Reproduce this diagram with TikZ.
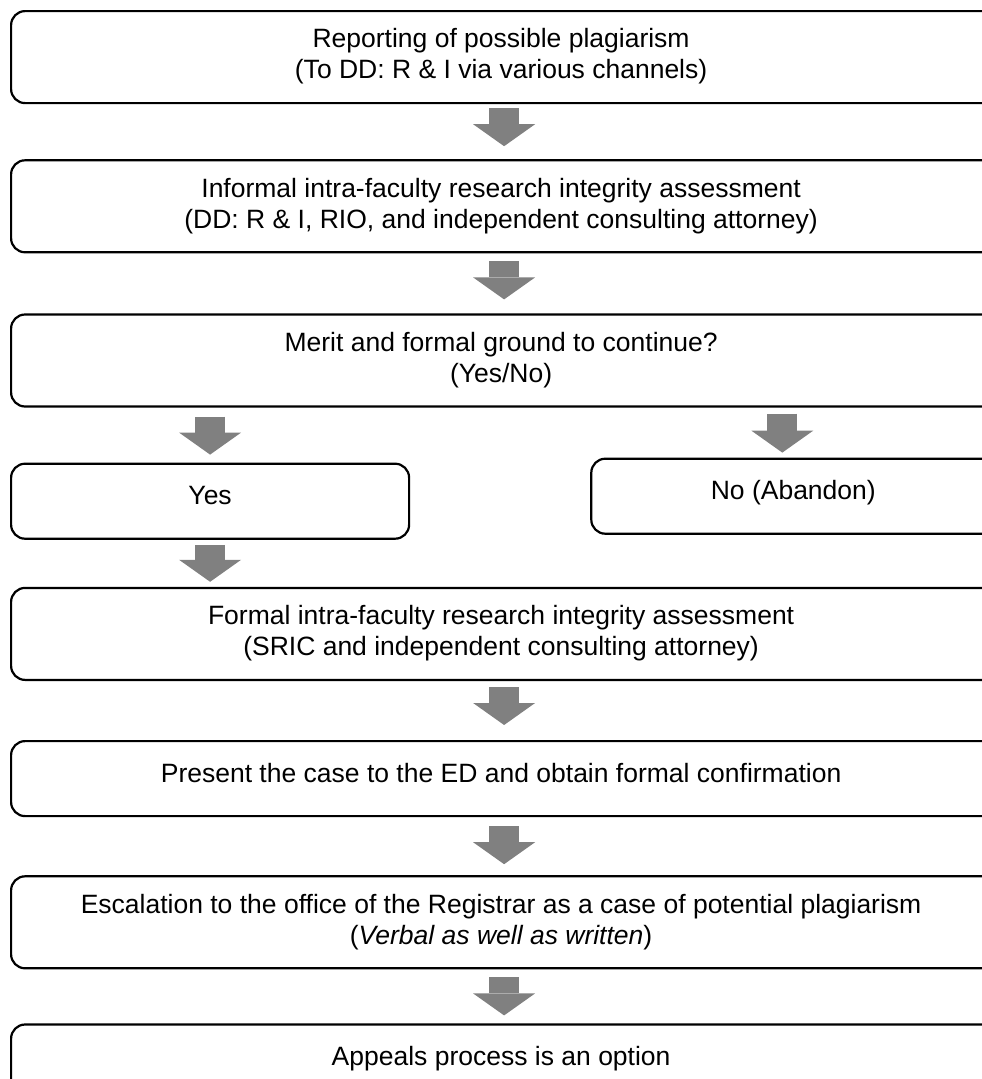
\documentclass[tikz,border=0pt]{standalone}
\usepackage{fontspec}
\setmainfont{Liberation Sans}
\usetikzlibrary{positioning,arrows.meta}
\definecolor{arrgray}{RGB}{128,128,128}
% text centred 15pt left of the box centre (box runs past the right edge)
\newcommand{\padln}[1]{\begin{tabular}{@{}c@{\hspace{30pt}}}#1\end{tabular}}
\tikzset{
  box/.style={draw, line width=2.2pt, rounded corners=14pt, inner sep=0pt, font=\fontsize{26.5pt}{31pt}\selectfont},
  stage/.style={box, minimum width=1010pt, minimum height=92pt},
  stageone/.style={stage, minimum height=75pt, text height=19pt, text depth=12pt},
  branch/.style={box, align=center, minimum height=75pt, text height=19pt, text depth=12pt},
  down/.style={line width=30pt, arrgray, -{Triangle[length=22pt, width=62pt, line width=0pt]}}
}
\begin{document}
\begin{tikzpicture}[x=1pt, y=1pt]
  \useasboundingbox (0,0) rectangle (982,-1079);
  \clip (0,0) rectangle (982,-1079);
  \node[stage, anchor=north west] (report) at (10,-10) {\padln{Reporting of possible plagiarism\\(To DD: R \& I via various channels)}};
  \node[stage, below=55pt of report.south west, anchor=north west] (informal) {\padln{Informal intra-faculty research integrity assessment\\(DD: R \& I, RIO, and independent consulting attorney)}};
  \node[stage, below=60pt of informal.south west, anchor=north west] (merit) {\padln{Merit and formal ground to continue?\\(Yes/No)}};
  \node[branch, minimum width=398pt, below=55pt of merit.south west, anchor=north west] (yes) {Yes};
  \node[stageone, minimum width=434pt, right=180pt of yes, yshift=5pt] (no) {\padln{No (Abandon)}};
  \node[stage, below=47pt of yes.south west, anchor=north west] (formal) {\padln{Formal intra-faculty research integrity assessment\\(SRIC and independent consulting attorney)}};
  \node[stageone, below=59pt of formal.south west, anchor=north west] (present) {\padln{Present the case to the ED and obtain formal confirmation}};
  \node[stage, below=58pt of present.south west, anchor=north west] (escal) {\padln{Escalation to the office of the Registrar as a case of potential plagiarism\\(\textit{Verbal as well as written})}};
  \node[stageone, minimum height=84pt, text depth=20pt, below=54pt of escal.south west, anchor=north west] (appeal) {\padln{Appeals process is an option}};
  \coordinate (noin) at ([xshift=-26pt]no.north);
  \draw[down, shorten <=4pt, shorten >=13pt] ([xshift=-12pt]report.south) -- ([xshift=-12pt]informal.north);
  \draw[down, shorten <=8pt, shorten >=14pt] ([xshift=-12pt]informal.south) -- ([xshift=-12pt]merit.north);
  \draw[down, shorten <=9pt, shorten >=8pt] (merit.south -| yes.north) -- (yes.north);
  \draw[down, shorten <=6pt, shorten >=5pt] (merit.south -| noin) -- (noin);
  \draw[down, shorten <=5pt, shorten >=5pt] (yes.south) -- (yes.south |- formal.north);
  \draw[down, shorten <=6pt, shorten >=15pt] ([xshift=-12pt]formal.south) -- ([xshift=-12pt]present.north);
  \draw[down, shorten <=9pt, shorten >=11pt] ([xshift=-12pt]present.south) -- ([xshift=-12pt]escal.north);
  \draw[down, shorten <=8pt, shorten >=8pt] ([xshift=-12pt]escal.south) -- ([xshift=-12pt]appeal.north);
\end{tikzpicture}
\end{document}
